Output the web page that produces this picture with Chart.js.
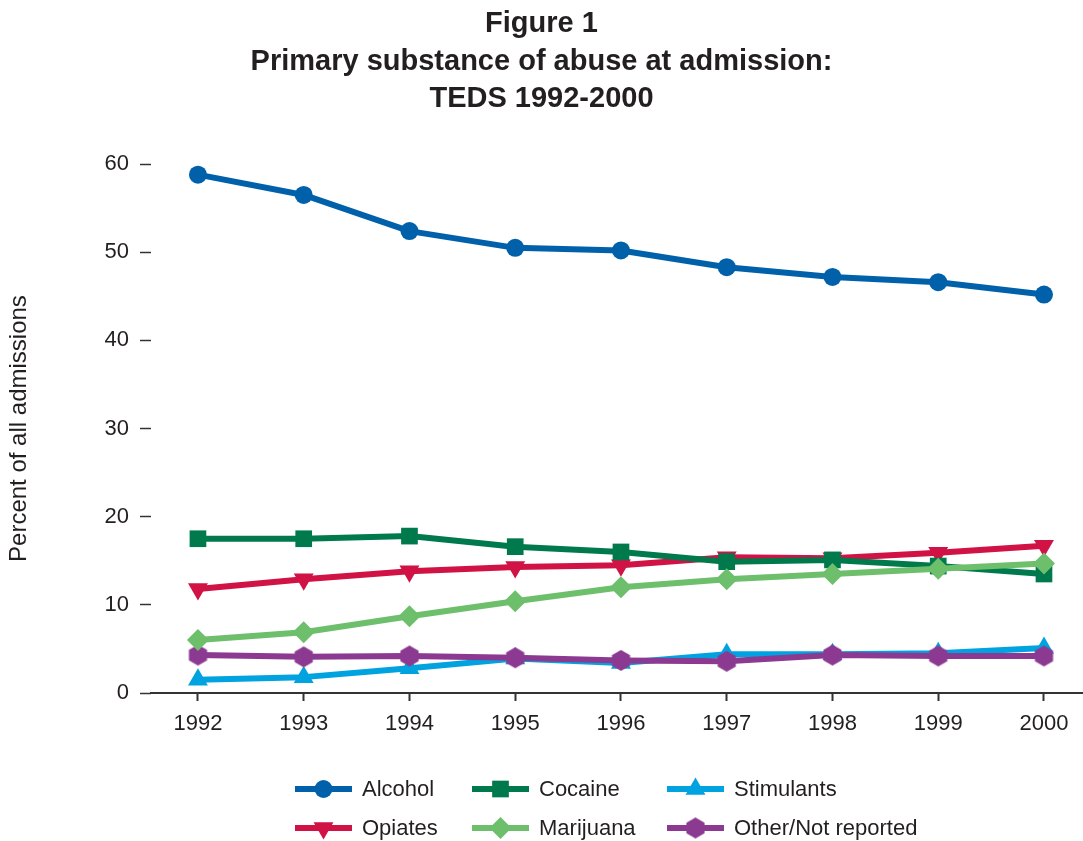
<!DOCTYPE html>
<html lang="en">
<head>
    <meta charset="UTF-8">
    <title>Primary substance of abuse at admission: TEDS 1992-2000</title>
    <script src="https://cdn.jsdelivr.net/npm/chart.js"></script>
    <style>
        body {
            margin: 0;
            background-color: #ffffff;
        }
        #chart {
            display: block;
        }
    </style>
</head>
<body>
    <canvas id="chart" width="1083" height="841"></canvas>
    <script>
        const years = [1992, 1993, 1994, 1995, 1996, 1997, 1998, 1999, 2000];
        const yTicks = [0, 10, 20, 30, 40, 50, 60];

        const alcohol    = [58.8, 56.5, 52.4, 50.5, 50.2, 48.3, 47.2, 46.6, 45.2];
        const cocaine    = [17.5, 17.5, 17.8, 16.6, 16.0, 14.9, 15.1, 14.4, 13.5];
        const stimulants = [1.5, 1.8, 2.8, 3.9, 3.4, 4.4, 4.4, 4.5, 5.1];
        const opiates    = [11.8, 12.9, 13.8, 14.3, 14.5, 15.4, 15.3, 15.9, 16.7];
        const marijuana  = [6.0, 6.9, 8.7, 10.4, 12.0, 12.9, 13.5, 14.1, 14.7];
        const other      = [4.3, 4.1, 4.2, 4.0, 3.7, 3.6, 4.3, 4.2, 4.2];

        const FONT = '"Liberation Sans", Arial, Helvetica, sans-serif';
        const TEXT = '#231f20';

        // pointy-top hexagon, chart.js has no such point style
        function hexagon(color, r) {
            const c = document.createElement('canvas');
            const s = Math.ceil(r * 2 + 2);
            c.width = s;
            c.height = s;
            const g = c.getContext('2d');
            g.fillStyle = color;
            g.beginPath();
            for (let i = 0; i < 6; i++) {
                const a = -Math.PI / 2 + i * Math.PI / 3;
                const px = s / 2 + r * Math.cos(a);
                const py = s / 2 + r * Math.sin(a);
                if (i === 0) g.moveTo(px, py); else g.lineTo(px, py);
            }
            g.closePath();
            g.fill();
            return c;
        }

        function series(label, values, color, style, radius, rotation, order) {
            return {
                label: label,
                data: values.map((v, i) => ({ x: years[i], y: v })),
                borderColor: color,
                backgroundColor: color,
                pointBackgroundColor: color,
                pointBorderColor: color,
                pointBorderWidth: 0,
                pointStyle: style,
                pointRadius: radius,
                pointHoverRadius: radius,
                pointRotation: rotation,
                borderWidth: 6,
                borderJoinStyle: 'round',
                tension: 0,
                clip: false,
                order: order
            };
        }

        const datasets = [
            series('Alcohol', alcohol, '#0061aa', 'circle', 9, 0, 0),
            series('Cocaine', cocaine, '#007a4d', 'rect', 11.8, 0, 2),
            series('Stimulants', stimulants, '#00a3e0', 'triangle', 11.5, 0, 2),
            series('Opiates', opiates, '#d01244', 'triangle', 11.5, 180, 3),
            series('Marijuana', marijuana, '#6dbf6b', 'rectRot', 11, 0, 1),
            series('Other/Not reported', other, '#8c3a91', hexagon('#8c3a91', 10.5), 10.5, 0, 1)
        ];

        // legend in fixed columns, two rows
        const gridLegend = {
            id: 'gridLegend',
            afterDraw(chart) {
                const ctx = chart.ctx;
                const cols = [295, 472, 667];
                const rows = [789, 828];
                ctx.save();
                chart.data.datasets.forEach((ds, i) => {
                    const x = cols[i % 3];
                    const y = rows[Math.floor(i / 3)];
                    ctx.strokeStyle = ds.borderColor;
                    ctx.lineWidth = 6;
                    ctx.beginPath();
                    ctx.moveTo(x, y);
                    ctx.lineTo(x + 57, y);
                    ctx.stroke();
                    ctx.fillStyle = ds.pointBackgroundColor;
                    Chart.helpers.drawPoint(ctx, {
                        pointStyle: ds.pointStyle,
                        rotation: ds.pointRotation,
                        radius: ds.pointRadius,
                        borderWidth: 0
                    }, x + 28.5, y);
                    ctx.fillStyle = TEXT;
                    ctx.font = '22px ' + FONT;
                    ctx.textAlign = 'left';
                    ctx.textBaseline = 'middle';
                    ctx.fillText(ds.label, x + 67, y + 1);
                });
                ctx.restore();
            }
        };

        new Chart(document.getElementById('chart'), {
            type: 'line',
            data: { datasets: datasets },
            plugins: [gridLegend],
            options: {
                responsive: false,
                animation: false,
                layout: { autoPadding: false, padding: { left: 0, right: 0, top: 0, bottom: 104 } },
                plugins: {
                    legend: { display: false },
                    tooltip: { enabled: false },
                    title: {
                        display: true,
                        text: ['Figure 1', 'Primary substance of abuse at admission:', 'TEDS 1992-2000'],
                        color: TEXT,
                        font: { family: FONT, size: 29, weight: 'bold', lineHeight: 1.3 },
                        padding: { top: 5, bottom: 46 }
                    }
                },
                scales: {
                    x: {
                        type: 'linear',
                        min: 1991.556,
                        max: 2000.369,
                        afterBuildTicks: (s) => { s.ticks = years.map(v => ({ value: v })); },
                        afterFit: (s) => { s.height = 44; s.paddingLeft = 0; s.paddingRight = 0; },
                        grid: {
                            drawOnChartArea: false,
                            drawTicks: true,
                            tickLength: 8,
                            tickWidth: 2,
                            tickColor: '#333333'
                        },
                        border: { display: true, color: '#333333', width: 2 },
                        ticks: {
                            color: TEXT,
                            padding: 10,
                            font: { family: FONT, size: 22 },
                            callback: (v) => String(v)
                        }
                    },
                    y: {
                        min: 0,
                        max: 60,
                        afterBuildTicks: (s) => { s.ticks = yTicks.map(v => ({ value: v })); },
                        afterFit: (s) => { s.width = 151; },
                        grid: {
                            drawOnChartArea: false,
                            drawTicks: true,
                            tickLength: 11,
                            tickWidth: 1.5,
                            tickColor: '#333333'
                        },
                        border: { display: false },
                        ticks: {
                            color: TEXT,
                            padding: 11,
                            font: { family: FONT, size: 22 }
                        },
                        title: {
                            display: true,
                            text: 'Percent of all admissions',
                            color: TEXT,
                            font: { family: FONT, size: 24 },
                            padding: { top: 5, bottom: 0 }
                        }
                    }
                }
            }
        });
    </script>
</body>
</html>
